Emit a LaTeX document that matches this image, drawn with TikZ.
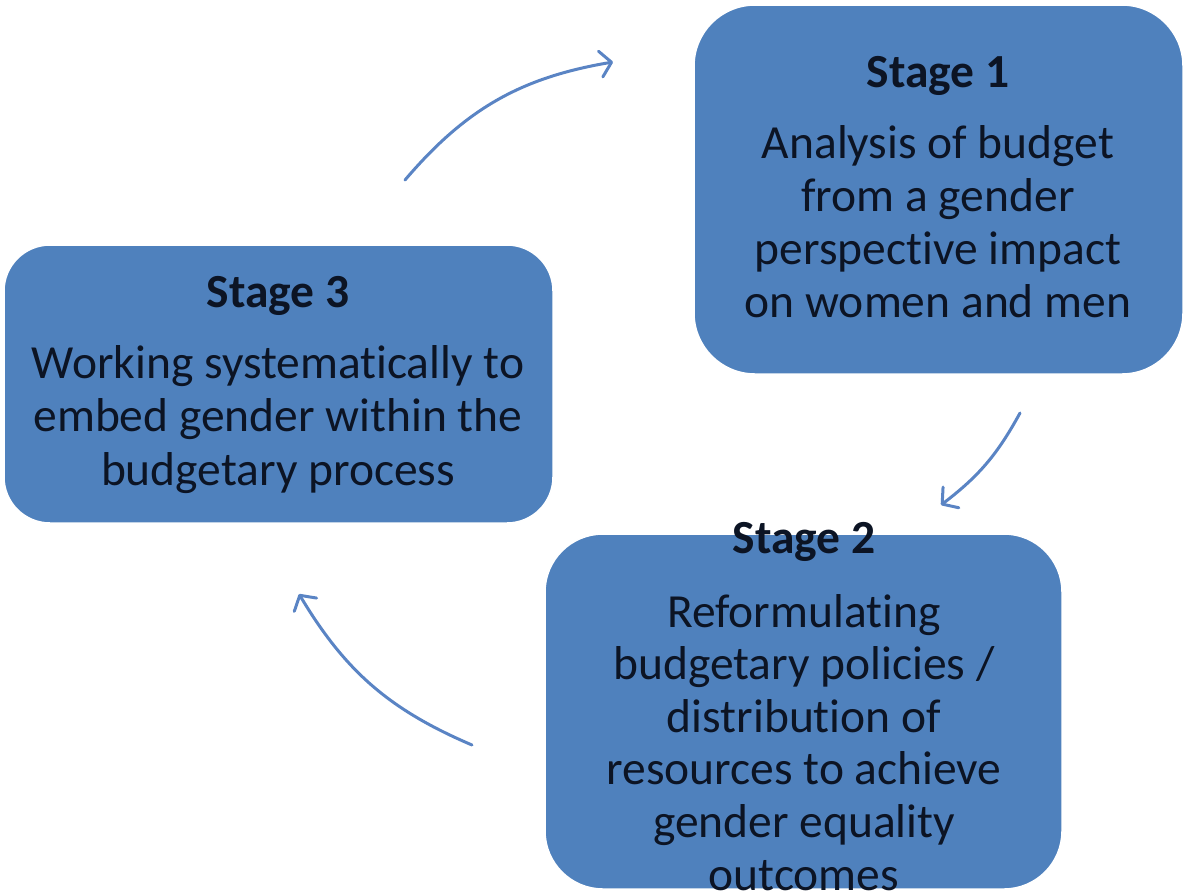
\documentclass[tikz,border=0pt]{standalone}
\usepackage{fontspec}
\setmainfont[Ligatures=NoCommon]{Carlito}
\usetikzlibrary{arrows.meta}
\definecolor{boxblue}{RGB}{79,129,189}
\definecolor{arrowblue}{RGB}{90,132,196}
\definecolor{txtcol}{RGB}{12,20,36}
\begin{document}
\begin{tikzpicture}[x=1pt,y=-1pt,
  stagebox/.style={draw=white, line width=1.5pt, fill=boxblue, inner sep=0pt, outer sep=0pt, anchor=north west},
  stagetitle/.style={anchor=base, inner sep=0pt, text=txtcol, font=\fontsize{47.5}{52.8}\bfseries\selectfont},
  stagebody/.style={anchor=base, inner sep=0pt, text=txtcol, align=center, font=\fontsize{47.5}{#1}\selectfont},
  flow/.style={draw=arrowblue, line width=3pt, line cap=round, -{Straight Barb[length=11pt,width=26pt,round]}}
]
\useasboundingbox (0,0) rectangle (1186,895);
% boxes
\node[stagebox, minimum width=489pt, minimum height=369pt, rounded corners=61pt] (s1) at (694,5) {};
\node[stagebox, minimum width=549pt, minimum height=278pt, rounded corners=46pt] (s3) at (4,245) {};
\node[stagebox, minimum width=517pt, minimum height=355pt, rounded corners=58pt] (s2) at (545,534) {};
% texts (body nodes are anchored at the baseline of their last line)
\node[stagetitle] (t1) at (938,87) {Stage 1};
\node[stagebody=52.7] (b1) at (938,317) {Analysis of budget\\from a gender\\perspective impact\\on women and men};
\node[stagetitle] (t3) at (278,307) {Stage 3};
\node[stagebody=53.5] (b3) at (278,485) {Working systematically to\\embed gender within the\\budgetary process};
\node[stagetitle] (t2) at (804,553) {Stage 2};
\node[stagebody=52.6] (b2) at (804,890) {Reformulating\\budgetary policies /\\distribution of\\resources to achieve\\gender equality\\outcomes};
% arrows
\coordinate (a1s) at (405,180);
\coordinate (a1e) at (613,62);
\coordinate (a2s) at (1020,413);
\coordinate (a2e) at (941,505);
\coordinate (a3s) at (472,745);
\coordinate (a3e) at (299,594);
\draw[flow] (a1s) to[bend left=20] (a1e);
\draw[flow] (a2s) to[bend left=12] (a2e);
\draw[flow] (a3s) to[bend left=18] (a3e);
\end{tikzpicture}
\end{document}
